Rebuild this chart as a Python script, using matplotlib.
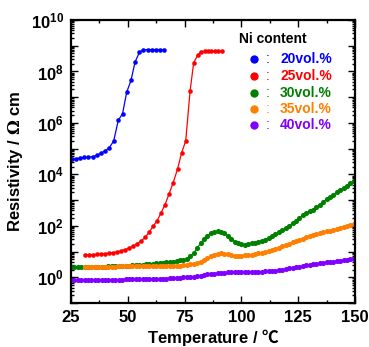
import numpy as np
import matplotlib
matplotlib.use("Agg")
import matplotlib.pyplot as plt
from matplotlib.ticker import FixedLocator, LogLocator, NullFormatter, MultipleLocator

plt.rcParams['font.family'] = ['Liberation Sans', 'DejaVu Sans']
plt.rcParams['font.weight'] = 'bold'
plt.rcParams['mathtext.fontset'] = 'custom'
plt.rcParams['mathtext.rm'] = 'Liberation Sans:bold'
plt.rcParams['mathtext.it'] = 'Liberation Sans:bold'
plt.rcParams['mathtext.bf'] = 'Liberation Sans:bold'
plt.rcParams['mathtext.sf'] = 'DejaVu Serif'
plt.rcParams['mathtext.tt'] = 'Noto Sans CJK JP'

# ---------------- data (resistivity stored as log10 values) ----------------
temp_20 = [25.3, 27.2, 29.0, 30.9, 32.6, 34.5, 36.3, 38.2, 40.1, 41.9, 43.8, 45.8,
           47.7, 49.5, 51.4, 53.2, 55.1, 56.8, 58.8, 60.5, 62.4, 64.2, 66.1]
log_rho_20 = [4.60, 4.61, 4.63, 4.66, 4.67, 4.69, 4.74, 4.82, 4.92, 5.04, 5.30, 6.10,
              6.36, 7.19, 7.65, 8.37, 8.74, 8.84, 8.85, 8.85, 8.85, 8.85, 8.85]

temp_25 = [31.2, 32.9, 34.7, 36.4, 38.2, 40.0, 41.7, 43.5, 45.3, 47.0, 48.8, 50.5,
           52.3, 54.1, 55.8, 57.6, 59.3, 61.1, 62.9, 64.6, 66.4, 68.1, 69.9, 71.9,
           73.7, 75.5, 77.4, 79.0, 80.8, 82.2, 83.8, 85.3, 86.8, 88.4, 89.9, 91.5]
log_rho_25 = [0.881, 0.881, 0.881, 0.888, 0.900, 0.920, 0.939, 0.959, 0.990, 1.029, 1.076, 1.135,
              1.213, 1.299, 1.409, 1.546, 1.742, 1.977, 2.200, 2.497, 2.826, 3.229, 3.659, 4.207,
              4.845, 5.303, 7.233, 8.344, 8.630, 8.775, 8.787, 8.787, 8.787, 8.787, 8.787, 8.787]

temp_dense = [25.0, 26.5, 28.0, 29.5, 31.0, 32.5, 34.0, 35.5, 37.0, 38.5, 40.0, 41.5,
              43.0, 44.5, 46.0, 47.5, 49.0, 50.5, 52.0, 53.5, 55.0, 56.5, 58.0, 59.5,
              61.0, 62.5, 64.0, 65.5, 67.0, 68.5, 70.0, 71.5, 73.0, 74.5, 76.0, 77.5,
              79.0, 80.5, 82.0, 83.5, 85.0, 86.5, 88.0, 89.5, 91.0, 92.5, 94.0, 95.5,
              97.0, 98.5, 100.0, 101.5, 103.0, 104.5, 106.0, 107.5, 109.0, 110.5, 112.0, 113.5,
              115.0, 116.5, 118.0, 119.5, 121.0, 122.5, 124.0, 125.5, 127.0, 128.5, 130.0, 131.5,
              133.0, 134.5, 136.0, 137.5, 139.0, 140.5, 142.0, 143.5, 145.0, 146.5, 148.0, 149.5]

log_rho_30 = [0.384, 0.387, 0.390, 0.394, 0.397, 0.400, 0.403, 0.406, 0.409, 0.413,
              0.418, 0.422, 0.426, 0.431, 0.435, 0.440, 0.444, 0.449, 0.458, 0.470,
              0.482, 0.494, 0.506, 0.518, 0.531, 0.543, 0.555, 0.568, 0.581, 0.595,
              0.609, 0.635, 0.661, 0.687, 0.717, 0.818, 0.930, 1.127, 1.322, 1.483,
              1.607, 1.704, 1.765, 1.781, 1.764, 1.702, 1.604, 1.493, 1.376, 1.324,
              1.291, 1.273, 1.289, 1.314, 1.346, 1.382, 1.420, 1.461, 1.532, 1.602,
              1.674, 1.750, 1.826, 1.906, 2.004, 2.101, 2.200, 2.303, 2.405, 2.496,
              2.562, 2.629, 2.714, 2.824, 2.935, 3.036, 3.125, 3.214, 3.303, 3.391,
              3.480, 3.567, 3.653, 3.739]

temp_35 = temp_dense[4:]
log_rho_35 = [0.401, 0.403, 0.405, 0.406, 0.408, 0.410, 0.412, 0.413, 0.415, 0.417,
              0.419, 0.420, 0.422, 0.424, 0.426, 0.427, 0.429, 0.431, 0.433, 0.434,
              0.436, 0.438, 0.440, 0.442, 0.443, 0.445, 0.447, 0.448, 0.450, 0.467,
              0.484, 0.502, 0.522, 0.566, 0.610, 0.660, 0.736, 0.812, 0.877, 0.909,
              0.929, 0.916, 0.899, 0.872, 0.844, 0.841, 0.841, 0.847, 0.861, 0.875,
              0.904, 0.933, 0.956, 0.974, 1.020, 1.065, 1.110, 1.154, 1.198, 1.245,
              1.302, 1.359, 1.413, 1.459, 1.504, 1.548, 1.588, 1.628, 1.668, 1.708,
              1.748, 1.783, 1.814, 1.845, 1.880, 1.921, 1.961, 2.000, 2.039, 2.077]

log_rho_40 = [-0.110, -0.108, -0.107, -0.105, -0.104, -0.102, -0.101, -0.099, -0.098, -0.096,
              -0.095, -0.093, -0.092, -0.090, -0.089, -0.087, -0.085, -0.084, -0.082, -0.081,
              -0.079, -0.078, -0.076, -0.075, -0.073, -0.072, -0.070, -0.062, -0.053, -0.043,
              -0.034, -0.025, -0.016, -0.007, 0.003, 0.012, 0.022, 0.044, 0.065, 0.087,
              0.108, 0.127, 0.141, 0.153, 0.166, 0.179, 0.188, 0.188, 0.189, 0.189,
              0.190, 0.191, 0.194, 0.197, 0.200, 0.209, 0.218, 0.228, 0.237, 0.246,
              0.257, 0.279, 0.301, 0.324, 0.346, 0.368, 0.390, 0.413, 0.436, 0.458,
              0.481, 0.504, 0.524, 0.541, 0.558, 0.576, 0.593, 0.610, 0.627, 0.643,
              0.660, 0.677, 0.693, 0.710]

labels = ["20vol.%", "25vol.%", "30vol.%", "35vol.%", "40vol.%"]
colors = ["#0000FF", "#FF0000", "#008000", "#FF8000", "#8000FF"]
x_ticks = [25, 50, 75, 100, 125, 150]
y_label_exps = [0, 2, 4, 6, 8, 10]

series = [
    (temp_20, log_rho_20, 3.3),
    (temp_25, log_rho_25, 3.3),
    (temp_dense, log_rho_30, 3.7),
    (temp_35, log_rho_35, 3.7),
    (temp_dense, log_rho_40, 3.7),
]

# ---------------- figure ----------------
fig = plt.figure(figsize=(3.69, 3.47), dpi=100)
ax = fig.add_axes([71/369, 1-303/347, 284/369, 283/347])

for (t, lr, ms), c in zip(series, colors):
    ax.plot(t, 10 ** np.array(lr), '-', color=c, lw=0.9, marker='o', ms=ms,
            mec=c, mfc=c, mew=0)

ax.set_yscale('log')
ax.set_xlim(25, 150)
ax.set_ylim(1e-1, 1e10)

ax.xaxis.set_major_locator(FixedLocator(x_ticks))
ax.xaxis.set_minor_locator(MultipleLocator(12.5))
ax.set_xticklabels([str(v) for v in x_ticks])

ax.yaxis.set_minor_locator(LogLocator(base=10, subs=np.arange(2, 10), numticks=20))
ax.yaxis.set_minor_formatter(NullFormatter())
yt = [10.0 ** e for e in range(-1, 11)]
ax.yaxis.set_major_locator(FixedLocator(yt))
ax.set_yticklabels([r'$10^{%d}$' % e if e in y_label_exps else '' for e in range(-1, 11)])

ax.tick_params(which='both', direction='in', top=True, right=True, width=1.0, colors='black')
ax.tick_params(which='major', length=5)
ax.tick_params(which='minor', length=2.5)
ax.tick_params(axis='x', which='major', labelsize=12, pad=5)
ax.tick_params(axis='y', which='major', labelsize=12, pad=5)
for lbl in ax.get_xticklabels():
    lbl.set_fontweight('bold')
for s in ax.spines.values():
    s.set_linewidth(1.6)

# axis labels
fig.text((71 + 355) / 2 / 369, 1 - 342.5 / 347, 'Temperature / $\\mathtt{\u2103}$',
         fontsize=12, fontweight='bold', ha='center', va='baseline')
ax.set_ylabel('Resistivity / $\\mathsf{\\Omega}$ cm', fontsize=12, fontweight='bold', labelpad=4)

# legend built from text
ax.text(0.592, 0.932, 'Ni content', transform=ax.transAxes, fontsize=10,
        fontweight='bold', va='center', ha='left')
row_y = [0.861, 0.801, 0.743, 0.687, 0.628]
for yy, lab, c in zip(row_y, labels, colors):
    ax.plot([0.644], [yy], 'o', color=c, ms=6, mew=0, transform=ax.transAxes, clip_on=False)
    ax.text(0.694, yy, ':', transform=ax.transAxes, fontsize=10, color=c,
            fontweight='normal', va='center', ha='center')
    ax.text(0.736, yy, lab, transform=ax.transAxes, fontsize=10, color=c,
            fontweight='bold', va='center', ha='left')

fig.savefig('out.png', dpi=100)
